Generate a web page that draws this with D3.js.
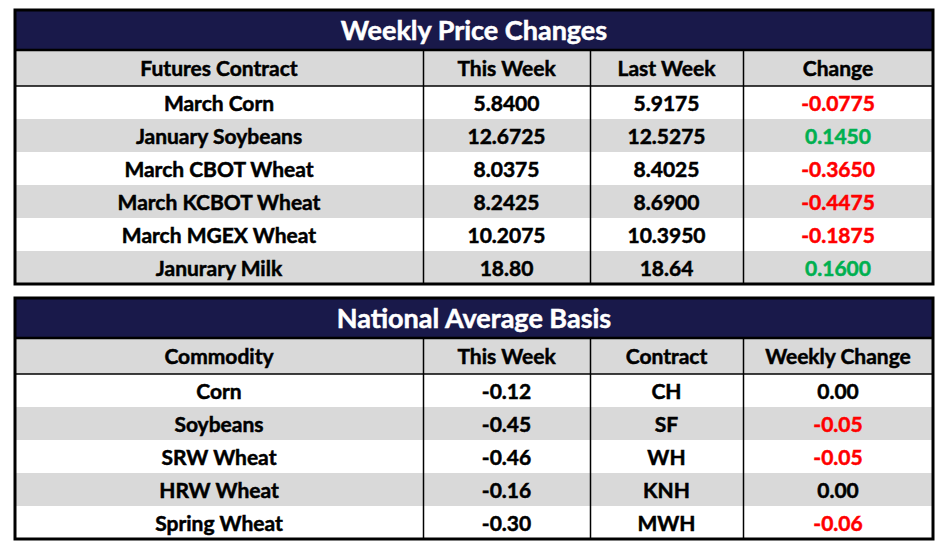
<!DOCTYPE html>
<html>
<head>
<meta charset="utf-8">
<script src="https://cdn.jsdelivr.net/npm/d3@7"></script>
<style>
  body { margin: 0; background: #fff; }
  svg text { font-family: Lato, "Noto Sans", sans-serif; font-weight: bold; }
</style>
</head>
<body>
<div id="chart"></div>
<script>
// table 1: weekly price changes
var priceTitle = 'Weekly Price Changes';
var priceHeaders = ['Futures Contract', 'This Week', 'Last Week', 'Change'];
var priceContracts = ['March Corn', 'January Soybeans', 'March CBOT Wheat', 'March KCBOT Wheat', 'March MGEX Wheat', 'Janurary Milk'];
var priceThisWeek = ['5.8400', '12.6725', '8.0375', '8.2425', '10.2075', '18.80'];
var priceLastWeek = ['5.9175', '12.5275', '8.4025', '8.6900', '10.3950', '18.64'];
var priceChange = ['-0.0775', '0.1450', '-0.3650', '-0.4475', '-0.1875', '0.1600'];

// table 2: national average basis
var basisTitle = 'National Average Basis';
var basisHeaders = ['Commodity', 'This Week', 'Contract', 'Weekly Change'];
var basisCommodities = ['Corn', 'Soybeans', 'SRW Wheat', 'HRW Wheat', 'Spring Wheat'];
var basisThisWeek = ['-0.12', '-0.45', '-0.46', '-0.16', '-0.30'];
var basisContracts = ['CH', 'SF', 'WH', 'KNH', 'MWH'];
var basisChange = ['0.00', '-0.05', '-0.05', '0.00', '-0.06'];

const WIDTH = 945;
const HEIGHT = 552;
const NAVY = '#19194a';
const GREY = '#d9d9d9';
const COL_EDGES = [15, 423, 590, 743, 933];

var svg = d3.select('#chart').append('svg')
            .attr('width', WIDTH)
            .attr('height', HEIGHT);

// center of column i
function colMid(i) {
  return (COL_EDGES[i] + COL_EDGES[i + 1]) / 2;
}

// color for a change value: red when negative, green when positive, black at zero
function changeColor(v) {
  var n = +v;
  if (n < 0) return '#ff0000';
  if (n > 0) return '#00b050';
  return '#000';
}

function drawTable(top, title, headers, rows, colorCol) {
  var titleH = 40, headH = 36, rowH = 33;
  var y = d3.scaleLinear()
            .domain([0, rows.length])
            .range([top + titleH + headH, top + titleH + headH + rows.length * rowH]);
  var bottom = y(rows.length);
  var left = COL_EDGES[0], right = COL_EDGES[COL_EDGES.length - 1];

  var g = svg.append('g');

  // title band
  g.append('rect')
   .attr('x', left).attr('y', top)
   .attr('width', right - left).attr('height', titleH)
   .attr('fill', NAVY);
  g.append('text')
   .attr('x', (left + right) / 2)
   .attr('y', top + titleH / 2 + 1)
   .attr('dy', '0.35em')
   .attr('text-anchor', 'middle')
   .attr('font-size', 27)
   .attr('fill', '#fff')
   .attr('stroke', '#fff').attr('stroke-width', 0.5)
   .text(title);

  // header band
  g.append('rect')
   .attr('x', left).attr('y', top + titleH)
   .attr('width', right - left).attr('height', headH)
   .attr('fill', GREY);

  // zebra rows
  g.selectAll('rect.row').data(rows)
   .enter().append('rect')
   .classed('row', true)
   .attr('x', left)
   .attr('y', (d, i) => y(i))
   .attr('width', right - left)
   .attr('height', rowH)
   .attr('fill', (d, i) => i % 2 ? GREY : '#fff');

  // header text
  g.selectAll('text.head').data(headers)
   .enter().append('text')
   .classed('head', true)
   .attr('x', (d, i) => colMid(i))
   .attr('y', top + titleH + headH / 2 + 1)
   .attr('dy', '0.35em')
   .attr('text-anchor', 'middle')
   .attr('font-size', 21)
   .attr('fill', '#000')
   .attr('stroke', '#000').attr('stroke-width', 0.5)
   .text(d => d);

  // cell text
  rows.forEach(function(row, r) {
    g.selectAll('text.cell' + r).data(row)
     .enter().append('text')
     .attr('x', (d, i) => colMid(i))
     .attr('y', y(r) + rowH / 2 + 1.5)
     .attr('dy', '0.35em')
     .attr('text-anchor', 'middle')
     .attr('font-size', 21)
     .attr('fill', (d, i) => i === colorCol ? changeColor(d) : '#000')
     .attr('stroke', (d, i) => i === colorCol ? changeColor(d) : '#000')
     .attr('stroke-width', 0.5)
     .text(d => d);
  });

  // column separators
  g.selectAll('line.col').data(COL_EDGES.slice(1, 4))
   .enter().append('line')
   .attr('x1', d => d + 0.5).attr('x2', d => d + 0.5)
   .attr('y1', top + titleH).attr('y2', bottom)
   .attr('stroke', '#000').attr('stroke-width', 1.5);

  // line under title and header
  g.append('line')
   .attr('x1', left).attr('x2', right)
   .attr('y1', top + titleH).attr('y2', top + titleH)
   .attr('stroke', '#000').attr('stroke-width', 2.5);
  g.append('line')
   .attr('x1', left).attr('x2', right)
   .attr('y1', top + titleH + headH).attr('y2', top + titleH + headH)
   .attr('stroke', '#000').attr('stroke-width', 1.5);

  // outer border
  g.append('rect')
   .attr('x', left).attr('y', top)
   .attr('width', right - left).attr('height', bottom - top)
   .attr('fill', 'none')
   .attr('stroke', '#000').attr('stroke-width', 3);
}

var priceRows = priceContracts.map((c, i) => [c, priceThisWeek[i], priceLastWeek[i], priceChange[i]]);
var basisRows = basisCommodities.map((c, i) => [c, basisThisWeek[i], basisContracts[i], basisChange[i]]);

drawTable(10, priceTitle, priceHeaders, priceRows, 3);
drawTable(298, basisTitle, basisHeaders, basisRows, 3);
</script>
</body>
</html>
